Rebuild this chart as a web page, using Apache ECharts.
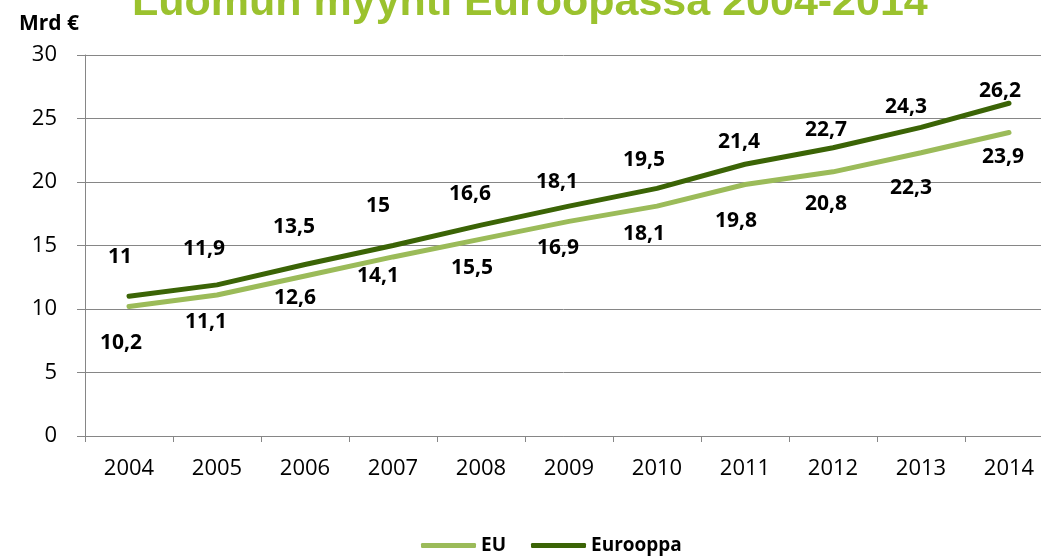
<!DOCTYPE html>
<html>
<head>
<meta charset="utf-8">
<script src="https://cdn.jsdelivr.net/npm/echarts@6/dist/echarts.min.js"></script>
<style>
  html, body { margin: 0; padding: 0; background: #fff; }
  #chart { width: 1041px; height: 557px; }
</style>
</head>
<body>
<div id="chart"></div>
<script>
// data
var years = ['2004', '2005', '2006', '2007', '2008', '2009', '2010', '2011', '2012', '2013', '2014'];
var euValues = [10.2, 11.1, 12.6, 14.1, 15.5, 16.9, 18.1, 19.8, 20.8, 22.3, 23.9];
var europeValues = [11, 11.9, 13.5, 15, 16.6, 18.1, 19.5, 21.4, 22.7, 24.3, 26.2];

// label placement (pixels from the point), as in the original
var euLabelShift = [[-8, 37], [-11, 27], [-10, 22], [-15, 19], [-9, 29], [-11, 27], [-13, 28], [-9, 36], [-7, 32], [-10, 35], [-6, 25]];
var europeLabelShift = [[-9, -39], [-13, -36], [-11, -38], [-15, -39], [-11, -31], [-12, -24], [-13, -28], [-6, -22], [-7, -18], [-15, -20], [-9, -12]];

var labelFont = {
  fontFamily: 'Open Sans',
  fontWeight: 'bold',
  fontSize: 21,
  color: '#000'
};

function buildData(values, shifts) {
  return values.map(function (v, i) {
    return {
      value: v,
      label: { offset: shifts[i] }
    };
  });
}

function commaFormat(p) {
  return String(p.value).replace('.', ',');
}

var chart = echarts.init(document.getElementById('chart'));
var option = {
  animation: false,
  title: [
    {
      text: 'Luomun myynti Euroopassa 2004-2014',
      left: 127,
      top: -23,
      textStyle: {
        fontFamily: 'Liberation Sans',
        fontWeight: 'bold',
        fontSize: 43,
        color: '#9bc22e'
      }
    },
    {
      text: 'Mrd €',
      left: 14,
      top: 9,
      textStyle: {
        fontFamily: 'Open Sans',
        fontWeight: 'bold',
        fontSize: 21,
        color: '#000'
      }
    }
  ],
  grid: {
    left: 85,
    width: 968,
    top: 55,
    bottom: 121,
    outerBoundsMode: 'none'
  },
  legend: {
    bottom: -3,
    left: 416,
    itemWidth: 55,
    itemHeight: 5,
    itemGap: 25,
    icon: 'roundRect',
    textStyle: {
      fontFamily: 'Open Sans',
      fontWeight: 'bold',
      fontSize: 19,
      color: '#000'
    },
    data: ['EU', 'Eurooppa']
  },
  xAxis: {
    type: 'category',
    data: years,
    boundaryGap: true,
    axisLine: { lineStyle: { color: '#868686', width: 1 } },
    axisTick: { show: true, length: 6, lineStyle: { color: '#868686' } },
    axisLabel: {
      fontFamily: 'Open Sans',
      fontSize: 22,
      color: '#000',
      margin: 22
    }
  },
  yAxis: {
    type: 'value',
    min: 0,
    max: 30,
    interval: 5,
    axisLine: { show: true, lineStyle: { color: '#868686' } },
    axisTick: { show: true, length: 8, lineStyle: { color: '#868686' } },
    splitLine: { lineStyle: { color: '#868686', width: 1 } },
    axisLabel: {
      fontFamily: 'Open Sans',
      fontSize: 22,
      color: '#000',
      margin: 28
    }
  },
  series: [
    {
      name: 'EU',
      type: 'line',
      data: buildData(euValues, euLabelShift),
      symbol: 'circle',
      symbolSize: 0,
      showSymbol: true,
      lineStyle: { color: '#9bbb59', width: 5, cap: 'round' },
      itemStyle: { color: '#9bbb59' },
      label: Object.assign({
        show: true,
        position: 'inside',
        formatter: commaFormat
      }, labelFont),
      z: 2
    },
    {
      name: 'Eurooppa',
      type: 'line',
      data: buildData(europeValues, europeLabelShift),
      symbol: 'circle',
      symbolSize: 0,
      showSymbol: true,
      lineStyle: { color: '#3b6406', width: 5, cap: 'round' },
      itemStyle: { color: '#3b6406' },
      label: Object.assign({
        show: true,
        position: 'inside',
        formatter: commaFormat
      }, labelFont),
      z: 3
    }
  ]
};
chart.setOption(option);
</script>
</body>
</html>
